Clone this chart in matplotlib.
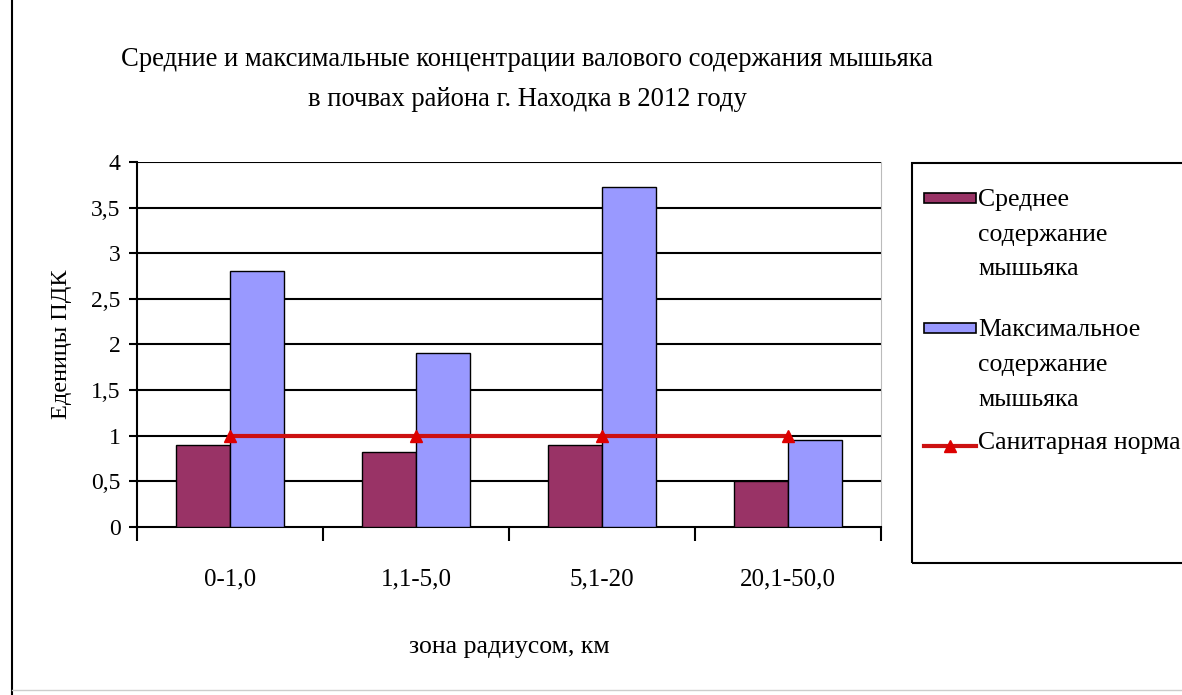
import numpy as np
import matplotlib.pyplot as plt
from matplotlib.patches import Rectangle
from matplotlib.lines import Line2D

zones = ["0-1,0", "1,1-5,0", "5,1-20", "20,1-50,0"]
avg_as = [0.9, 0.82, 0.9, 0.5]
max_as = [2.8, 1.9, 3.72, 0.95]
norm = [1, 1, 1, 1]
y_ticks = [0, 0.5, 1, 1.5, 2, 2.5, 3, 3.5, 4]
y_labels = ["0", "0,5", "1", "1,5", "2", "2,5", "3", "3,5", "4"]

c_avg = "#993366"
c_max = "#9999FF"
c_norm = "#CC1111"

plt.rcParams['font.family'] = ['Liberation Serif', 'DejaVu Serif']

W, H = 1182, 695
fig = plt.figure(figsize=(W / 100, H / 100), dpi=100)
ax = fig.add_axes([0.116, 0.242, 0.629, 0.525])

def px(x, y):
    # pixel position (from top left) -> figure fraction
    return x / W, 1 - y / H

x = np.arange(len(zones))
w = 0.29
ax.bar(x - w/2, avg_as, w, color=c_avg, edgecolor="black", linewidth=1, zorder=3)
ax.bar(x + w/2, max_as, w, color=c_max, edgecolor="black", linewidth=1, zorder=3)
ax.plot(x, norm, color=c_norm, lw=3, marker="^", ms=8, mfc="#DD0000", mec="#DD0000", zorder=4)

ax.set_xlim(-0.5, 3.5)
ax.set_ylim(0, 4)
ax.set_yticks(y_ticks)
ax.set_yticklabels(y_labels, fontsize=17)
for yy in y_ticks[1:]:
    ax.axhline(yy, color="black", lw=1.5, zorder=1)

ax.set_xticks(x)
ax.set_xticklabels(zones, fontsize=18)
ax.set_xticks(np.arange(-0.5, 4, 1), minor=True)
ax.tick_params(axis="x", which="major", length=0, pad=30)
ax.tick_params(axis="x", which="minor", length=10, width=1.5, direction="out")
ax.tick_params(axis="y", length=6, width=1.5, pad=6)

ax.spines["top"].set_visible(False)
ax.spines["right"].set_color("#bbbbbb")
ax.spines["left"].set_linewidth(1.5)
ax.spines["bottom"].set_linewidth(1.5)

ax.set_ylabel("Еденицы ПДК", fontsize=17.5, labelpad=14)
ax.set_xlabel("зона радиусом, км", fontsize=18.5, labelpad=33)

fig.text(*px(527, 60), "Средние и максимальные концентрации валового содержания мышьяка",
         ha="center", va="center", fontsize=19.2)
fig.text(*px(527, 100), "в почвах района г. Находка в 2012 году",
         ha="center", va="center", fontsize=19.2)

# legend box drawn by hand, entries aligned to the first text line
fig.patches.append(Rectangle(px(912, 563), 0.3, 400 / H, transform=fig.transFigure,
                             fill=False, edgecolor="black", lw=1.5))
leg_entries = [
    ("Среднее\nсодержание\nмышьяка", 198, "bar", c_avg),
    ("Максимальное\nсодержание\nмышьяка", 328, "bar", c_max),
    ("Санитарная норма", 446, "line", c_norm),
]
for label, yy, kind, col in leg_entries:
    if kind == "bar":
        fig.patches.append(Rectangle(px(924, yy + 5), 52 / W, 10 / H, transform=fig.transFigure,
                                     facecolor=col, edgecolor="black", lw=1.2))
        ty = yy - 9
    else:
        fig.add_artist(Line2D([924 / W, 976 / W], [1 - yy / H] * 2, color=col, lw=3))
        fig.add_artist(Line2D([950 / W], [1 - yy / H], color=col, marker="^", ms=8,
                              mfc="#DD0000", mec="#DD0000"))
        ty = yy - 14
    fig.text(*px(978, ty), label, ha="left", va="top", fontsize=18.5, linespacing=1.75)

fig.add_artist(Line2D([12 / W, 12 / W], [0, 1], color="black", lw=1.5))
fig.add_artist(Line2D([12 / W, 1], [0.007, 0.007], color="#cccccc", lw=1))

fig.savefig("out.png", dpi=100)
